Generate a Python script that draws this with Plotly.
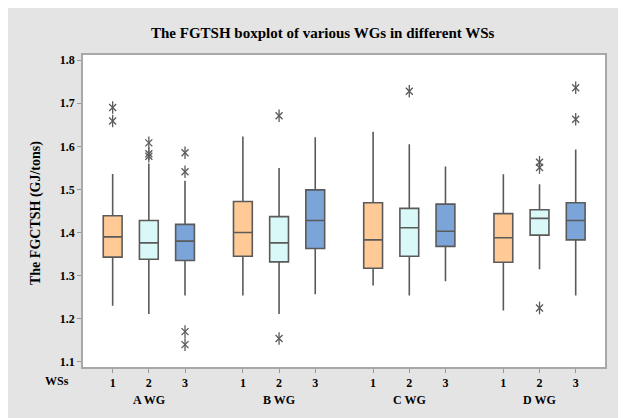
import plotly.graph_objects as go

# ---- data ----
wg_groups = ["A WG", "B WG", "C WG", "D WG"]
ws_labels = ["1", "2", "3"]

# order: A1, A2, A3, B1, B2, B3, C1, C2, C3, D1, D2, D3
lower_whisker = [1.230, 1.211, 1.254, 1.254, 1.211, 1.257, 1.277, 1.254, 1.287, 1.219, 1.315, 1.254]
q1_values     = [1.343, 1.338, 1.335, 1.345, 1.332, 1.363, 1.317, 1.345, 1.368, 1.331, 1.394, 1.383]
median_values = [1.390, 1.376, 1.380, 1.400, 1.376, 1.428, 1.383, 1.411, 1.403, 1.388, 1.433, 1.428]
q3_values     = [1.439, 1.428, 1.419, 1.472, 1.437, 1.499, 1.469, 1.456, 1.466, 1.444, 1.453, 1.469]
upper_whisker = [1.536, 1.560, 1.520, 1.623, 1.550, 1.621, 1.634, 1.605, 1.553, 1.535, 1.512, 1.593]
outliers = [
    [1.690, 1.659],
    [1.608, 1.583, 1.577],
    [1.585, 1.541, 1.170, 1.140],
    [],
    [1.671, 1.154],
    [],
    [],
    [1.728],
    [],
    [],
    [1.563, 1.551, 1.225],
    [1.736, 1.663],
]

ws_colors = ["#FFCA96", "#D9F8F8", "#7BA5D9"]
line_col = "#5a5a5a"
group_step = 3.6

fig = go.Figure()
positions = []
for g in range(len(wg_groups)):
    for w in range(len(ws_labels)):
        i = g * 3 + w
        pos = 1 + g * group_step + w
        positions.append(pos)
        fig.add_trace(go.Box(
            x=[pos], q1=[q1_values[i]], median=[median_values[i]], q3=[q3_values[i]],
            lowerfence=[lower_whisker[i]], upperfence=[upper_whisker[i]],
            fillcolor=ws_colors[w], line=dict(color=line_col, width=1.6),
            width=0.52, whiskerwidth=0, boxpoints=False, showlegend=False,
        ))

ox, oy = [], []
for i, pts in enumerate(outliers):
    for v in pts:
        ox.append(positions[i])
        oy.append(v)
for sym, sz in (("x-thin-open", 7), ("line-ns-open", 9)):
    fig.add_trace(go.Scatter(
        x=ox, y=oy, mode="markers", showlegend=False,
        marker=dict(symbol=sym, size=sz, color=line_col, line=dict(color=line_col, width=1.3)),
    ))

# page has an 8px body margin; figure fills the rest of the 626x418 window
OFF = 8
W, H = 626 - OFF, 418 - OFF
L, R, T, B = 83 - OFF, 21, 55 - OFF, 51
pw, ph = W - L - R, H - T - B

def px_x(px):  # px measured in window coordinates
    return (px - OFF - L) / pw

def px_y(py):
    return (H - B - (py - OFF)) / ph

font_fam = "Liberation Serif"
def ann(text, x, y, size, xref="paper", angle=0):
    return dict(text=text, x=x, y=y, xref=xref, yref="paper", showarrow=False,
                xanchor="center", yanchor="middle", textangle=angle,
                font=dict(family=font_fam, size=size, color="black", weight="bold"))

annotations = [
    ann("The FGTSH boxplot of various WGs in different WSs", px_x(323), px_y(33), 15),
    ann("The FGCTSH (GJ/tons)", px_x(36), px_y(213), 14, angle=-90),
    ann("WSs", px_x(57), px_y(381), 12),
]
for g, name in enumerate(wg_groups):
    annotations.append(ann(name, positions[g * 3 + 1], px_y(400), 12, xref="x"))

fig.update_layout(
    width=W, height=H, margin=dict(l=L, r=R, t=T, b=B, autoexpand=False),
    paper_bgcolor="#E4E4E4", plot_bgcolor="white",
    annotations=annotations,
    xaxis=dict(range=[0.18, 14.61], tickvals=positions, ticktext=ws_labels * 4,
               ticks="outside", ticklen=4, tickcolor="#999", showgrid=False, zeroline=False,
               showline=True, mirror=True, linecolor="#A8A8A8", linewidth=1.5,
               tickfont=dict(family=font_fam, size=12, color="black", weight="bold")),
    yaxis=dict(range=[1.088, 1.812], tickvals=[1.1, 1.2, 1.3, 1.4, 1.5, 1.6, 1.7, 1.8],
               ticktext=["1.1", "1.2", "1.3", "1.4", "1.5", "1.6", "1.7", "1.8"],
               ticks="outside", ticklen=4, tickcolor="#999", showgrid=False, zeroline=False,
               showline=True, mirror=True, linecolor="#A8A8A8", linewidth=1.5,
               tickfont=dict(family=font_fam, size=12, color="black", weight="bold")),
)

fig.write_html("out.html")
